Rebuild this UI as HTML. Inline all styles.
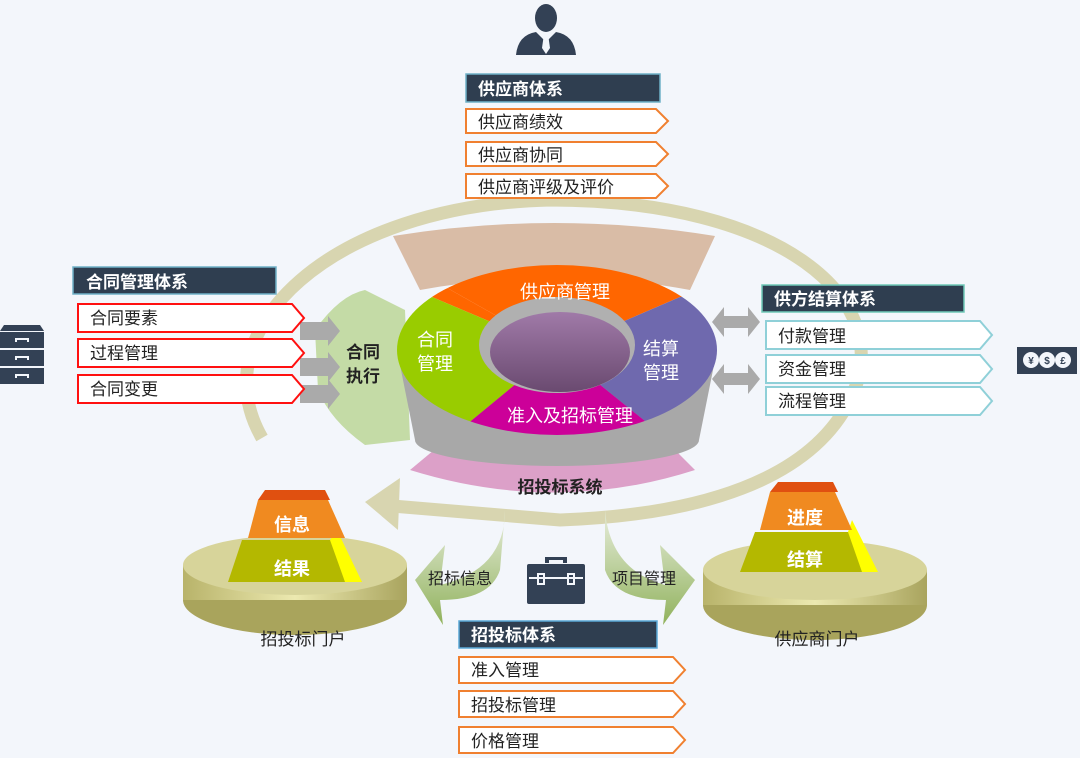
<!DOCTYPE html><html><head><meta charset="utf-8"><style>
body{margin:0;background:#f3f6fb;}
svg{display:block;font-family:"Liberation Sans","Noto Sans CJK SC",sans-serif;}
</style></head><body>
<svg width="1080" height="758" viewBox="0 0 1080 758">
<defs>
<clipPath id="el"><ellipse cx="557" cy="350" rx="160" ry="85"/></clipPath>
<linearGradient id="hole" x1="0" y1="0" x2="0" y2="1"><stop offset="0" stop-color="#a07aa8"/><stop offset="1" stop-color="#6a4a70"/></linearGradient>
<linearGradient id="gold" x1="0" y1="0" x2="1" y2="0"><stop offset="0" stop-color="#b8b36a"/><stop offset="0.5" stop-color="#ece9b0"/><stop offset="1" stop-color="#a9a45e"/></linearGradient>
<linearGradient id="garr" x1="0" y1="0" x2="0" y2="1"><stop offset="0" stop-color="#e6ecd8"/><stop offset="1" stop-color="#7fa640"/></linearGradient>
</defs>
<rect width="1080" height="758" fill="#f3f6fb"/>
<path d="M262 438 C200 330 330 205 550 200 C780 200 900 300 850 400 C810 480 700 515 560 520 L380 505" fill="none" stroke="#d8d5b0" stroke-width="13"/>
<polygon points="365,502 400,478 398,530" fill="#d8d5b0"/>
<path d="M393 236 Q555 210 715 236 L690 290 Q555 265 420 290 Z" fill="#d9bca6"/>
<path d="M410 470 L440 445 Q555 470 670 445 L695 470 Q555 515 410 470 Z" fill="#dca0c8"/>
<text x="560" y="493" font-size="17" font-weight="bold" text-anchor="middle" fill="#222">招投标系统</text>
<path d="M315 330 Q340 295 365 290 L405 310 L410 440 L365 445 Q330 420 318 390 Z" fill="#c4dba6"/>
<text x="363" y="358" font-size="17" font-weight="bold" text-anchor="middle" fill="#222">合同</text>
<text x="363" y="382" font-size="17" font-weight="bold" text-anchor="middle" fill="#222">执行</text>
<g fill="#aaaaaa"><polygon points="300,322 328,322 328,316 340,331 328,346 328,340 300,340"/><polygon points="300,358 328,358 328,352 340,367 328,382 328,376 300,376"/><polygon points="300,385 328,385 328,379 340,394 328,409 328,403 300,403"/></g>
<g fill="#aaaaaa"><polygon points="712,322 724,307 724,316 748,316 748,307 760,322 748,337 748,328 724,328 724,337"/><polygon points="712,379 724,364 724,373 748,373 748,364 760,379 748,394 748,385 724,385 724,394"/></g>
<path d="M397 350 L415 440 A142 26 0 0 0 699 440 L717 350 Z" fill="#a8a8a8"/>
<g clip-path="url(#el)">
<polygon points="557,350 380,250 740,250 740,300 680,297" fill="#ff6600"/>
<polygon points="557,350 380,250 380,300 432,297" fill="#ff6600"/>
<polygon points="557,350 432,297 380,290 380,440 460,430" fill="#99cc00"/>
<polygon points="557,350 460,430 440,450 680,450 650,425" fill="#cc0099"/>
<polygon points="557,350 650,425 740,440 740,290 680,297" fill="#6f69ae"/>
</g>
<ellipse cx="557" cy="345" rx="78" ry="48" fill="#b0b0b0"/>
<ellipse cx="560" cy="352" rx="70" ry="40" fill="url(#hole)"/>
<text x="565" y="298" font-size="18" text-anchor="middle" fill="#fff">供应商管理</text>
<text x="435" y="346" font-size="18" text-anchor="middle" fill="#fff">合同</text>
<text x="435" y="370" font-size="18" text-anchor="middle" fill="#fff">管理</text>
<text x="661" y="355" font-size="18" text-anchor="middle" fill="#fff">结算</text>
<text x="661" y="379" font-size="18" text-anchor="middle" fill="#fff">管理</text>
<text x="570" y="422" font-size="18" text-anchor="middle" fill="#fff">准入及招标管理</text>
<g fill="#334155"><ellipse cx="546" cy="18" rx="11" ry="14"/><path d="M516 55 Q518 35 536 32 L546 42 L556 32 Q574 35 576 55 Z"/></g>
<polygon points="544,34 548,34 550,48 546,54 542,48" fill="#f3f6fb"/>
<rect x="466" y="74" width="194" height="28" fill="#2f3e50" stroke="#6fb1c8" stroke-width="1.5"/>
<text x="478" y="95" font-size="17" font-weight="bold" fill="#fff">供应商体系</text>
<g fill="#fff" stroke="#f08030" stroke-width="2">
<polygon points="466,109 656,109 668,121 656,133 466,133"/>
<polygon points="466,142 656,142 668,154 656,166 466,166"/>
<polygon points="466,174 656,174 668,186 656,198 466,198"/></g>
<g font-size="17" fill="#222"><text x="478" y="128">供应商绩效</text><text x="478" y="161">供应商协同</text><text x="478" y="193">供应商评级及评价</text></g>
<rect x="73" y="267" width="203" height="27" fill="#2f3e50" stroke="#6fb1c8" stroke-width="1.5"/>
<text x="86" y="288" font-size="17" font-weight="bold" fill="#fff">合同管理体系</text>
<g fill="#fff" stroke="#ff1010" stroke-width="2">
<polygon points="78,304 292,304 304,318 292,332 78,332"/>
<polygon points="78,339 292,339 304,353 292,367 78,367"/>
<polygon points="78,375 292,375 304,389 292,403 78,403"/></g>
<g font-size="17" fill="#222"><text x="90" y="324">合同要素</text><text x="90" y="359">过程管理</text><text x="90" y="395">合同变更</text></g>
<g fill="#334155"><path d="M4 325 L40 325 L44 331 L0 331 Z"/><rect x="0" y="332" width="44" height="16"/><rect x="0" y="350" width="44" height="16"/><rect x="0" y="368" width="44" height="16"/></g>
<g stroke="#f3f6fb" stroke-width="2" fill="none"><path d="M16 342 v-3 h12 v3"/><path d="M16 360 v-3 h12 v3"/><path d="M16 378 v-3 h12 v3"/></g>
<rect x="762" y="285" width="202" height="27" fill="#2f3e50" stroke="#6fc8b8" stroke-width="1.5"/>
<text x="774" y="305" font-size="17" font-weight="bold" fill="#fff">供方结算体系</text>
<g fill="#fff" stroke="#8fd0d8" stroke-width="2">
<polygon points="766,321 980,321 992,335 980,349 766,349"/>
<polygon points="766,355 980,355 992,369 980,383 766,383"/>
<polygon points="766,387 980,387 992,401 980,415 766,415"/></g>
<g font-size="17" fill="#222"><text x="778" y="342">付款管理</text><text x="778" y="375">资金管理</text><text x="778" y="407">流程管理</text></g>
<rect x="1017" y="347" width="60" height="27" fill="#334155"/>
<g fill="#f3f6fb"><circle cx="1031" cy="360" r="8"/><circle cx="1047" cy="360" r="8"/><circle cx="1063" cy="360" r="8"/></g>
<g font-size="10" font-weight="bold" fill="#334155" text-anchor="middle"><text x="1031" y="364">¥</text><text x="1047" y="364">$</text><text x="1063" y="364">£</text></g>
<g>
<ellipse cx="295" cy="600" rx="112" ry="35" fill="#a9a45c"/><rect x="183" y="565" width="224" height="35" fill="url(#gold)"/><ellipse cx="295" cy="565" rx="112" ry="30" fill="#d7d49a"/>
<polygon points="242,540 337,540 362,582 228,582" fill="#b4b800"/><polygon points="337,530 362,582 345,582 330,540" fill="#ffff00"/>
<polygon points="258,500 328,500 345,538 248,538" fill="#f08a20"/><polygon points="265,490 325,490 330,500 258,500" fill="#e05010"/>
<text x="292" y="531" font-size="18" font-weight="bold" text-anchor="middle" fill="#fff">信息</text>
<text x="292" y="575" font-size="18" font-weight="bold" text-anchor="middle" fill="#fff">结果</text>
<text x="303" y="645" font-size="17" text-anchor="middle" fill="#222">招投标门户</text>
</g>
<g>
<ellipse cx="815" cy="605" rx="112" ry="35" fill="#a9a45c"/><rect x="703" y="570" width="224" height="35" fill="url(#gold)"/><ellipse cx="815" cy="570" rx="112" ry="30" fill="#d7d49a"/>
<polygon points="755,532 855,532 875,572 740,572" fill="#b4b800"/><polygon points="852,520 878,572 862,572 848,532" fill="#ffff00"/>
<polygon points="770,492 835,492 852,530 760,530" fill="#f08a20"/><polygon points="778,482 833,482 838,492 770,492" fill="#e05010"/>
<text x="805" y="524" font-size="18" font-weight="bold" text-anchor="middle" fill="#fff">进度</text>
<text x="805" y="566" font-size="18" font-weight="bold" text-anchor="middle" fill="#fff">结算</text>
<text x="817" y="645" font-size="17" text-anchor="middle" fill="#222">供应商门户</text>
</g>
<path d="M505 510 Q505 570 440 585 L445 545 L415 580 L443 625 L440 600 Q490 600 500 570 Z" fill="url(#garr)" opacity="0.85"/>
<path d="M605 510 Q610 570 665 585 L660 545 L695 580 L663 625 L666 600 Q615 600 605 570 Z" fill="url(#garr)" opacity="0.85"/>
<text x="460" y="584" font-size="16" text-anchor="middle" fill="#222">招标信息</text>
<text x="644" y="584" font-size="16" text-anchor="middle" fill="#222">项目管理</text>
<g fill="#334155"><path d="M545 563 v-6 h22 v6 h-4 v-3 h-14 v3 Z"/><rect x="527" y="564" width="58" height="40" rx="2"/></g>
<g fill="none" stroke="#f3f6fb" stroke-width="2"><path d="M529 578 h54"/><rect x="538" y="574" width="6" height="10"/><rect x="568" y="574" width="6" height="10"/></g>
<rect x="459" y="621" width="198" height="27" fill="#2f3e50" stroke="#5aa8d8" stroke-width="1.5"/>
<text x="471" y="641" font-size="17" font-weight="bold" fill="#fff">招投标体系</text>
<g fill="#fff" stroke="#f08030" stroke-width="2">
<polygon points="459,657 673,657 685,670 673,683 459,683"/>
<polygon points="459,691 673,691 685,704 673,717 459,717"/>
<polygon points="459,727 673,727 685,740 673,753 459,753"/></g>
<g font-size="17" fill="#222"><text x="471" y="676">准入管理</text><text x="471" y="711">招投标管理</text><text x="471" y="747">价格管理</text></g>
</svg>
</body></html>
